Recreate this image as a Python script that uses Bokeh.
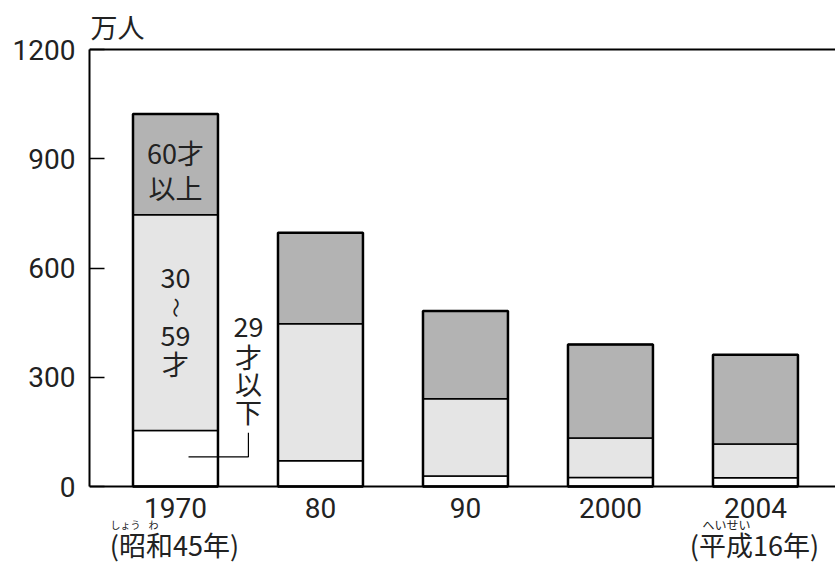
import math
from bokeh.plotting import figure
from bokeh.models import Label, FixedTicker, LinearAxis, Range1d, ColumnDataSource
from bokeh.embed import file_html
from bokeh.resources import INLINE

# ---- data (万人) ----
years = ["1970", "80", "90", "2000", "2004"]
age_29_under = [154, 71, 29, 25, 24]
age_30_59 = [592, 376, 212, 108, 93]
age_60_over = [277, 250, 241, 257, 245]
era_labels = ["(昭和45年)", "", "", "", "(平成16年)"]
y_ticks = [0, 300, 600, 900, 1200]

JP = "Noto Sans CJK JP"
NUM = "Roboto"
TXT = "#222222"

idx = list(range(len(years)))
b1 = [0] * len(years)
t1 = age_29_under
t2 = [a + b for a, b in zip(t1, age_30_59)]
t3 = [a + b for a, b in zip(t2, age_60_over)]

src = ColumnDataSource(dict(x=idx, b1=b1, t1=t1, t2=t2, t3=t3))

# frame covers the full canvas height; axes are pinned at y=0 / y=1200
p = figure(width=835, height=563, x_range=Range1d(-0.593, 4.552), y_range=Range1d(-211.4, 1334.6),
           output_backend="svg", toolbar_location=None,
           min_border_left=89, min_border_top=0, min_border_right=0, min_border_bottom=0,
           x_axis_location=None, y_axis_location=None)
p.outline_line_color = None
p.background_fill_color = "white"
p.border_fill_color = "white"
p.xgrid.visible = False
p.ygrid.visible = False

W = 0.586
p.vbar(x="x", bottom="b1", top="t1", width=W, source=src, fill_color="white", line_color="black", line_width=1.5)
p.vbar(x="x", bottom="t1", top="t2", width=W, source=src, fill_color="#e5e5e5", line_color="black", line_width=1.5)
p.vbar(x="x", bottom="t2", top="t3", width=W, source=src, fill_color="#b3b3b3", line_color="black", line_width=1.5)
p.vbar(x="x", bottom="b1", top="t3", width=W, source=src, fill_color=None, line_color="black", line_width=2.5)

# y axis
ya = LinearAxis(ticker=FixedTicker(ticks=y_ticks), bounds=(0, 1200))
ya.axis_line_width = 2
ya.axis_line_color = "black"
ya.major_tick_in = 15
ya.major_tick_out = 0
ya.major_tick_line_width = 1.3
ya.major_tick_line_color = "black"
ya.minor_tick_line_color = None
ya.major_label_standoff = 14
ya.major_label_text_font = NUM
ya.major_label_text_font_size = "28px"
ya.major_label_text_color = TXT
p.add_layout(ya, "left")

# x axis (pinned at y=0)
xa = LinearAxis(ticker=FixedTicker(ticks=idx), fixed_location=0)
xa.major_label_overrides = {i: y for i, y in zip(idx, years)}
xa.axis_line_width = 2
xa.axis_line_color = "black"
xa.major_tick_in = 0
xa.major_tick_out = 0
xa.minor_tick_line_color = None
xa.major_label_standoff = 11
xa.major_label_text_font = NUM
xa.major_label_text_font_size = "28px"
xa.major_label_text_color = TXT
p.add_layout(xa, "below")

# top frame line (pinned at y=1200)
ta = LinearAxis(ticker=FixedTicker(ticks=[]), fixed_location=1200)
ta.axis_line_width = 2
ta.axis_line_color = "black"
ta.major_tick_line_color = None
ta.minor_tick_line_color = None
ta.major_label_text_font_size = "0px"
p.add_layout(ta, "above")

# unit label
p.add_layout(Label(x=-0.593, y=1200, x_offset=1, y_offset=23, text="万人", text_font=JP,
                   text_font_size="27px", text_color=TXT, text_baseline="middle"))

# era labels & ruby
for i, lab_text in enumerate(era_labels):
    if lab_text:
        p.add_layout(Label(x=i, y=0, x_offset=-1, y_offset=-58, text=lab_text, text_font=JP,
                           text_font_size="27px", text_color=TXT, text_align="center",
                           text_baseline="middle"))
p.add_layout(Label(x=0, y=0, x_offset=-50, y_offset=-38, text="しょう", text_font=JP,
                   text_font_size="10px", text_color=TXT, text_align="center", text_baseline="middle"))
p.add_layout(Label(x=0, y=0, x_offset=-22, y_offset=-38, text="わ", text_font=JP,
                   text_font_size="10px", text_color=TXT, text_align="center", text_baseline="middle"))
p.add_layout(Label(x=4, y=0, x_offset=-29, y_offset=-38, text="へいせい", text_font=JP,
                   text_font_size="12px", text_color=TXT, text_align="center", text_baseline="middle"))

# in-bar labels (1970 bar)
def lab(x, y, dy, text, size="27px", angle=0.0):
    p.add_layout(Label(x=x, y=y, y_offset=dy, text=text, text_font=JP, text_font_size=size,
                       text_color=TXT, text_align="center", text_baseline="middle", angle=angle))

top_mid = (t2[0] + t3[0]) / 2
lab(0, top_mid, 12, "60才")
lab(0, top_mid, -23, "以上")
mid_mid = (t1[0] + t2[0]) / 2
lab(0, mid_mid, 45, "30")
lab(0, mid_mid, 15, "〜", size="20px", angle=math.pi / 2)
lab(0, mid_mid, -13, "59")
lab(0, mid_mid, -41, "才")

xs = 0.503
lab(xs, t1[0], 103, "29")
lab(xs, t1[0], 74, "才")
lab(xs, t1[0], 47, "以")
lab(xs, t1[0], 19, "下")

# leader line
p.line(x=[0.09, xs, xs], y=[t1[0] * 0.53, t1[0] * 0.53, t1[0] * 0.96], line_color="black", line_width=1.2)

open("out.html", "w").write(file_html(p, INLINE))
